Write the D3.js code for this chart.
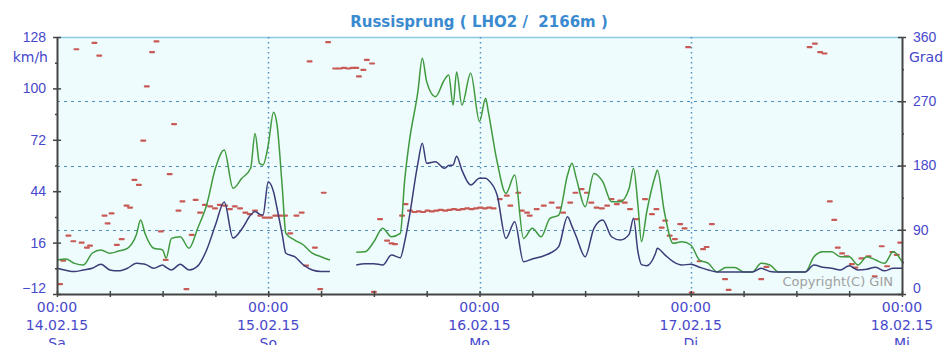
<!DOCTYPE html>
<html>
<head>
<meta charset="utf-8">
<script src="https://cdn.jsdelivr.net/npm/d3@7/dist/d3.min.js"></script>
<style>
  body { margin: 0; background: #fff; }
  svg { display: block; font-family: "DejaVu Sans", Verdana, sans-serif; }
</style>
</head>
<body>
<div id="chart"></div>
<script>
// hours since 14.02.15 00:00
const speedHours = [0,1,2,3,4,5,6,7,8,9,9.5,10,11,12,12.4,13,14,15,16,17,18,19,20,21,22,22.5,23,23.4,24,24.6,25,25.6,26,27,28,29,30,31,32,
  34,35,36,37,38,39,39.5,40,41,41.5,42,43,44,44.5,45,45.4,46,47,48,48.7,49,50,51,52,53,54,55,56,57,58,58.5,59,60,61,62,63,64,
  65,65.5,66,66.4,67,68,68.2,69,70,71,72,73,74,75,76,77,78,79,80,81,82,83,84,85,86,87,88,89,90,91,92,93,94,95,96];
// Böen (km/h)
const gust = [6.5,7.1,4.7,3.8,10.2,12.0,10.2,11.4,12.9,20.1,28.3,21,12.9,12.0,7.6,18.3,19.2,12.9,24,36.5,56.5,66.4,45.6,51.0,56.5,75.5,59.2,58.3,69.2,87,80.1,45.6,21.0,17.4,14.7,10.2,8.3,6.5,null,
  10.7,11.0,16.5,23.8,19.2,21.0,50,70.1,98.2,116.4,103.7,95.5,104.6,107.3,90.9,109,90.9,108.2,82,94.6,87.3,60.1,42.8,52.8,18.3,23.8,19.2,29.2,31.0,52.8,59.2,51.0,35.6,53.7,49.2,38.3,38.3,
  45.6,56.5,36.5,16.5,32.8,52.8,55.5,32.8,15.6,16.5,14.7,6.5,4.7,0,2.5,2.5,0,0,4.7,3.8,0,0,0,0,8.3,11.0,11.0,8.3,8.3,3.8,8.3,6.5,4.7,11.0,5.6];
// Mittelwind (km/h)
const mean = [2.0,0.9,0.2,1.1,2.0,4.2,1.1,0.6,2.0,4.7,4.5,4.2,2.0,3.8,2.5,1.1,4.2,1.1,3.3,12.0,25.6,38.1,18.5,23.4,31,33,31.5,31,49.2,43.7,34.7,20.1,10.2,8.3,3.8,1.1,0.3,0.3,null,
  3.8,4.5,4.5,3.8,9.2,7.8,16.5,29.2,59.2,70.1,59.2,60.1,56.5,58,58.3,63,55.5,47.4,51,51,50.1,41.9,18.3,27.4,5.6,7.1,8.3,10.2,13.8,30.1,25,19.2,8.3,23.8,28.3,19.2,17.4,
  20.5,29.2,11.0,4,3.4,10.2,12.9,9.6,5.6,3.8,4.2,2.6,1.1,0,0,0,0,0,2.0,0.3,0,0,0,0,3.8,2.6,2.0,1.1,3.4,1.1,1.5,2.6,0.6,2.0,2.0];
// Windrichtung (Grad)
const dirHours = [0.35,0.7,1.3,1.85,2.2,2.8,3.4,3.75,4.25,4.8,5.4,5.75,6.2,6.8,7.35,7.9,8.3,8.8,9.3,9.8,10.2,10.8,11.3,11.8,12.35,12.8,13.3,13.8,14.25,14.7,15.3,15.75,
  16.25,16.8,17.4,17.95,18.5,19.1,19.65,20.2,20.8,21.4,21.9,22.5,23.1,23.6,24.2,24.8,25.3,25.9,26.5,27.2,27.8,28.3,28.7,29.3,29.9,30.3,30.8,
  31.6,32.1,32.6,33.1,33.6,34.0,34.3,34.8,35.2,35.8,36.0,36.7,37.5,38.0,38.4,39.2,39.6,40.1,
  40.6,41.1,41.6,42.1,42.6,43.1,43.6,44.1,44.6,45.1,45.6,46.1,46.6,47.1,47.6,48.1,48.6,49.1,49.6,
  50.3,51.1,51.5,52.4,52.8,53.4,53.7,54.5,55.3,56.2,57.0,57.5,58.3,58.9,59.6,60.2,60.7,61.3,61.9,62.5,63.0,63.6,64.0,64.5,65.1,65.9,66.8,67.6,68.1,68.7,69.1,69.6,70.2,70.8,71.3,71.7,72.1,
  73.0,73.4,73.8,74.4,75.9,76.3,80.0,80.6,85.5,86.1,86.7,87.2,87.8,88.3,88.7,89.2,89.7,90.3,90.7,91.4,92.2,92.9,93.7,94.3,94.9,95.4,95.8];
const dirDeg = [14,47,82,74,343,72,65,68,352,334,110,99,113,69,77,124,121,160,153,215,291,339,354,88,48,168,238,117,130,7,83,132,
  114,125,123,120,125,124,119,123,120,114,112,117,110,107,107,110,110,110,85,110,114,40,326,65,7,142,353,
  316,316,317,316,317,317,305,314,328,323,3,105,75,71,70,110,126,117,
  115,116,115,117,116,117,118,117,118,119,118,119,120,119,120,121,120,121,120,
  133,138,124,142,117,114,110,119,124,128,121,114,128,142,147,142,128,121,120,124,133,126,131,128,119,105,133,112,119,93,103,82,77,98,92,346,2,
  46,63,66,98,21,6,21,38,346,351,339,337,130,104,65,57,53,42,37,50,53,25,67,39,59,55,72];

const dayHours = [0,24,48,72,96];
const dayTimes = ["00:00","00:00","00:00","00:00","00:00"];
const dayDates = ["14.02.15","15.02.15","16.02.15","17.02.15","18.02.15"];
const dayNames = ["Sa","So","Mo","Di","Mi"];
const speedTicks = [-12,16,44,72,100,128];
const dirTicks = [0,90,180,270,360];

const width = 946, height = 345;
const m = { left: 57, right: 902, top: 37, bottom: 294 };
const labelColor = "#4848cc";

const svg = d3.select("#chart").append("svg")
  .attr("width", width).attr("height", height);

const x = d3.scaleLinear().domain([0, 96]).range([m.left, m.right]);
const yS = d3.scaleLinear().domain([-12, 128]).range([m.bottom, m.top]);
const yD = d3.scaleLinear().domain([0, 360]).range([m.bottom, m.top]);

// plot background
svg.append("rect")
  .attr("x", m.left).attr("y", m.top)
  .attr("width", m.right - m.left).attr("height", m.bottom - m.top)
  .attr("fill", "#effcfd");
svg.append("line")
  .attr("x1", m.left).attr("x2", m.right).attr("y1", m.top + 0.5).attr("y2", m.top + 0.5)
  .attr("stroke", "#8ec8e2").attr("stroke-width", 1.5);

// grid
svg.append("g").selectAll("line")
  .data(dirTicks.filter(d => d > 0 && d < 360))
  .join("line")
  .attr("x1", m.left).attr("x2", m.right)
  .attr("y1", d => Math.round(yD(d)) + 0.5).attr("y2", d => Math.round(yD(d)) + 0.5)
  .attr("stroke", "#4f8fc0").attr("stroke-dasharray", "3,4");
svg.append("g").selectAll("line")
  .data(dayHours.slice(1, -1))
  .join("line")
  .attr("x1", d => Math.round(x(d)) + 0.5).attr("x2", d => Math.round(x(d)) + 0.5)
  .attr("y1", m.top).attr("y2", m.bottom)
  .attr("stroke", "#4f8fc0").attr("stroke-width", 1.5).attr("stroke-dasharray", "1.5,3.5");

// wind direction dashes
const dirData = dirHours.map((h, i) => ({ h, d: dirDeg[i] }));
svg.append("g").selectAll("rect")
  .data(dirData)
  .join("rect")
  .attr("x", d => x(d.h) - 3).attr("y", d => yD(d.d) - 1)
  .attr("width", 6).attr("height", 2.2)
  .attr("rx", 1)
  .attr("fill", "#c85a56");

// speed lines
const speedData = speedHours.map((h, i) => ({ h, g: gust[i], v: mean[i] }));
const lineG = d3.line().defined(d => d.g != null).x(d => x(d.h)).y(d => yS(d.g)).curve(d3.curveMonotoneX);
const lineM = d3.line().defined(d => d.v != null).x(d => x(d.h)).y(d => yS(d.v)).curve(d3.curveMonotoneX);
svg.append("path").datum(speedData)
  .attr("d", lineG).attr("fill", "none")
  .attr("stroke", "#3f9a3f").attr("stroke-width", 1.5);
svg.append("path").datum(speedData)
  .attr("d", lineM).attr("fill", "none")
  .attr("stroke", "#3c3c78").attr("stroke-width", 1.5);

// copyright
svg.append("text")
  .attr("x", 893).attr("y", 286)
  .attr("text-anchor", "end")
  .attr("fill", "#a0a0a0").style("font-size", "13px")
  .text("Copyright(C) GIN");

// axes
function styleAxis(g) {
  g.selectAll(".domain").attr("stroke", "#444").attr("stroke-width", 2);
  g.selectAll(".tick line").attr("stroke", "#444").attr("stroke-width", 1.5);
  g.selectAll(".tick text").attr("fill", labelColor).style("font-size", "14px");
}

const gL = svg.append("g").attr("transform", `translate(${m.left},0)`)
  .call(d3.axisLeft(yS).tickValues(speedTicks).tickSize(4).tickSizeOuter(0).tickPadding(7).tickFormat(d3.format("d")))
  .call(styleAxis);
gL.selectAll(".tick line").attr("x2", 4).attr("x1", -4);
gL.select(".tick:first-of-type text").attr("dy", "-0.1em");
svg.append("g").attr("transform", `translate(${m.left},0)`)
  .call(d3.axisLeft(yS).tickValues(speedTicks.slice(0, -1).map(d => d + 14)).tickSize(2).tickFormat(""))
  .call(g => g.select(".domain").remove())
  .call(styleAxis);

const gR = svg.append("g").attr("transform", `translate(${m.right},0)`)
  .call(d3.axisRight(yD).tickValues(dirTicks).tickSize(4).tickSizeOuter(0).tickPadding(7))
  .call(styleAxis);
gR.selectAll(".tick line").attr("x1", -4);
gR.select(".tick:first-of-type text").attr("dy", "-0.1em");
svg.append("g").attr("transform", `translate(${m.right},0)`)
  .call(d3.axisRight(yD).tickValues(dirTicks.slice(0, -1).map(d => d + 45)).tickSize(2).tickFormat(""))
  .call(g => g.select(".domain").remove())
  .call(styleAxis);

const sixHours = d3.range(0, 97, 6);
const gB = svg.append("g").attr("transform", `translate(0,${m.bottom})`)
  .call(d3.axisBottom(x).tickValues(sixHours).tickSize(3).tickSizeOuter(0).tickFormat(""))
  .call(styleAxis);
gB.selectAll(".tick line").attr("y1", -3);

// unit labels
svg.append("text").attr("x", 48).attr("y", 62).attr("text-anchor", "end")
  .attr("fill", labelColor).style("font-size", "14px").text("km/h");
svg.append("text").attr("x", 909).attr("y", 62)
  .attr("fill", labelColor).style("font-size", "14px").text("Grad");

// date labels
const dl = svg.append("g").selectAll("text")
  .data(dayHours.map((h, i) => ({ h, t: dayTimes[i], d: dayDates[i], n: dayNames[i] })))
  .join("text")
  .attr("text-anchor", "middle")
  .attr("fill", labelColor).style("font-size", "14px");
dl.append("tspan").attr("x", d => x(d.h)).attr("y", 312).text(d => d.t);
dl.append("tspan").attr("x", d => x(d.h)).attr("y", 330).text(d => d.d);
dl.append("tspan").attr("x", d => x(d.h)).attr("y", 348).text(d => d.n);

// title
svg.append("text")
  .attr("x", 479).attr("y", 27)
  .attr("text-anchor", "middle")
  .attr("fill", "#3a8ad0")
  .style("font-size", "15px").style("font-weight", "bold")
  .style("white-space", "pre")
  .text("Russisprung ( LHO2 /  2166m )");
</script>
</body>
</html>
